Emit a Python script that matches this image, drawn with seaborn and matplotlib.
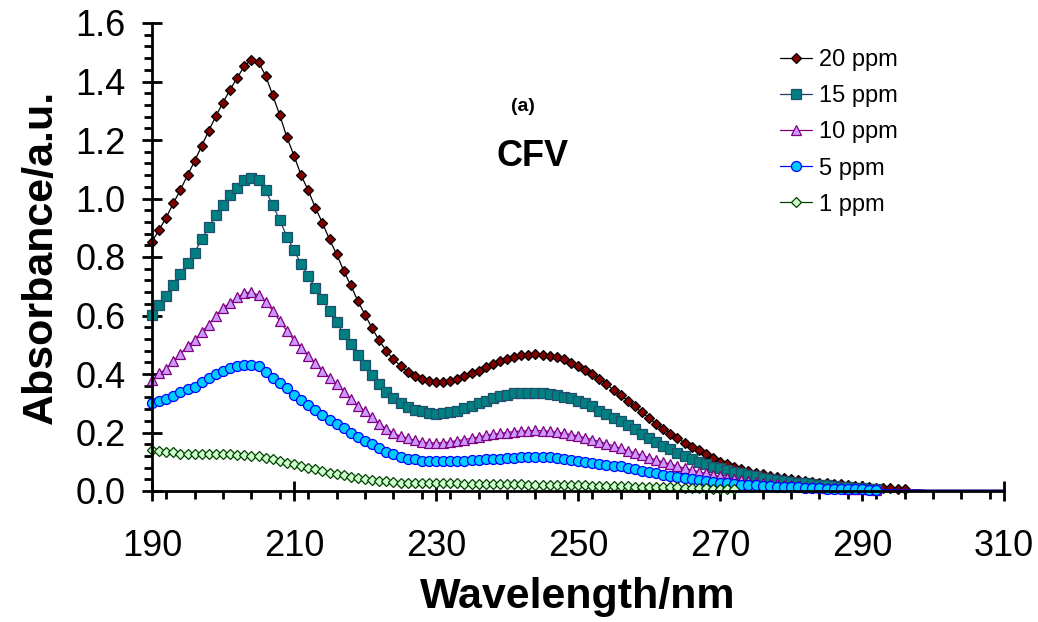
import numpy as np
import pandas as pd
import matplotlib
matplotlib.use("Agg")
import matplotlib.pyplot as plt
import seaborn as sns
from matplotlib.ticker import MultipleLocator, FormatStrFormatter

# ---------------- data (absorbance, 1 nm steps from 190 nm) -------------
start_nm = 190

abs_20ppm = [
    0.852, 0.893, 0.935, 0.983, 1.030, 1.079, 1.128, 1.180, 1.232, 1.282,
    1.328, 1.372, 1.413, 1.452, 1.475, 1.466, 1.420, 1.353, 1.285, 1.209,
    1.147, 1.079, 1.028, 0.969, 0.917, 0.860, 0.810, 0.753, 0.703, 0.649,
    0.603, 0.556, 0.515, 0.479, 0.450, 0.428, 0.407, 0.394, 0.383, 0.376,
    0.372, 0.371, 0.377, 0.383, 0.392, 0.402, 0.411, 0.424, 0.434, 0.443,
    0.450, 0.458, 0.464, 0.465, 0.468, 0.465, 0.462, 0.458, 0.450, 0.439,
    0.428, 0.415, 0.400, 0.383, 0.366, 0.345, 0.329, 0.309, 0.289, 0.269,
    0.250, 0.230, 0.213, 0.196, 0.181, 0.165, 0.150, 0.139, 0.126, 0.113,
    0.100, 0.091, 0.083, 0.075, 0.068, 0.062, 0.057, 0.052, 0.049, 0.045,
    0.041, 0.037, 0.034, 0.031, 0.029, 0.027, 0.025, 0.023, 0.020, 0.018,
    0.017, 0.014, 0.011, 0.009, 0.009, 0.008, 0.008,
]

abs_15ppm = [
    0.603, 0.637, 0.666, 0.705, 0.741, 0.781, 0.815, 0.861, 0.901, 0.945,
    0.977, 1.011, 1.037, 1.062, 1.070, 1.062, 1.028, 0.977, 0.926, 0.869,
    0.824, 0.775, 0.736, 0.694, 0.658, 0.615, 0.577, 0.538, 0.502, 0.464,
    0.430, 0.396, 0.366, 0.340, 0.318, 0.301, 0.286, 0.277, 0.272, 0.266,
    0.264, 0.265, 0.269, 0.275, 0.284, 0.292, 0.300, 0.309, 0.317, 0.324,
    0.329, 0.334, 0.335, 0.336, 0.336, 0.335, 0.332, 0.328, 0.323, 0.317,
    0.309, 0.300, 0.289, 0.275, 0.264, 0.250, 0.238, 0.224, 0.211, 0.196,
    0.182, 0.167, 0.155, 0.142, 0.130, 0.119, 0.110, 0.100, 0.091, 0.083,
    0.078, 0.072, 0.066, 0.060, 0.055, 0.050, 0.046, 0.042, 0.038, 0.035,
    0.032, 0.029, 0.026, 0.024, 0.021, 0.019, 0.017, 0.015, 0.013, 0.011,
    0.009, 0.008, 0.007,
]

abs_10ppm = [
    0.379, 0.402, 0.417, 0.445, 0.468, 0.496, 0.515, 0.544, 0.569, 0.598,
    0.626, 0.643, 0.662, 0.677, 0.680, 0.669, 0.646, 0.617, 0.581, 0.547,
    0.515, 0.490, 0.462, 0.436, 0.411, 0.388, 0.366, 0.340, 0.315, 0.292,
    0.273, 0.252, 0.230, 0.213, 0.198, 0.187, 0.181, 0.173, 0.167, 0.165,
    0.164, 0.165, 0.168, 0.172, 0.176, 0.180, 0.185, 0.190, 0.194, 0.197,
    0.200, 0.203, 0.205, 0.206, 0.207, 0.206, 0.204, 0.201, 0.197, 0.193,
    0.188, 0.182, 0.176, 0.169, 0.162, 0.154, 0.146, 0.138, 0.130, 0.122,
    0.114, 0.106, 0.099, 0.092, 0.085, 0.078, 0.072, 0.066, 0.060, 0.055,
    0.050, 0.045, 0.041, 0.037, 0.034, 0.031, 0.028, 0.025, 0.023, 0.021,
    0.019, 0.017, 0.015, 0.014, 0.012, 0.011, 0.010, 0.009, 0.008, 0.007,
    0.006, 0.006, 0.005,
]

abs_5ppm = [
    0.300, 0.309, 0.315, 0.326, 0.337, 0.349, 0.357, 0.371, 0.386, 0.400,
    0.411, 0.419, 0.426, 0.430, 0.430, 0.426, 0.408, 0.388, 0.369, 0.351,
    0.329, 0.311, 0.294, 0.277, 0.261, 0.244, 0.230, 0.215, 0.199, 0.184,
    0.170, 0.159, 0.147, 0.134, 0.125, 0.116, 0.111, 0.108, 0.104, 0.102,
    0.101, 0.101, 0.102, 0.103, 0.104, 0.105, 0.106, 0.108, 0.109, 0.110,
    0.112, 0.113, 0.115, 0.116, 0.116, 0.116, 0.115, 0.113, 0.110, 0.106,
    0.102, 0.099, 0.096, 0.093, 0.090, 0.087, 0.084, 0.080, 0.075, 0.070,
    0.065, 0.060, 0.056, 0.052, 0.048, 0.044, 0.040, 0.037, 0.034, 0.031,
    0.029, 0.026, 0.024, 0.022, 0.020, 0.019, 0.017, 0.016, 0.015, 0.014,
    0.013, 0.012, 0.011, 0.010, 0.009, 0.008, 0.008, 0.007, 0.007, 0.006,
    0.006, 0.005, 0.005,
]

abs_1ppm = [
    0.139, 0.137, 0.134, 0.132, 0.128, 0.126, 0.125, 0.126, 0.126, 0.126,
    0.125, 0.125, 0.122, 0.122, 0.120, 0.119, 0.114, 0.109, 0.103, 0.097,
    0.092, 0.085, 0.079, 0.074, 0.068, 0.063, 0.058, 0.054, 0.049, 0.045,
    0.041, 0.037, 0.035, 0.034, 0.032, 0.029, 0.029, 0.028, 0.028, 0.028,
    0.026, 0.026, 0.026, 0.026, 0.025, 0.025, 0.025, 0.024, 0.024, 0.024,
    0.023, 0.023, 0.023, 0.022, 0.022, 0.022, 0.021, 0.021, 0.020, 0.020,
    0.019, 0.019, 0.018, 0.018, 0.017, 0.017, 0.016, 0.016, 0.015, 0.015,
    0.014, 0.014, 0.013, 0.012, 0.012, 0.011, 0.010, 0.010, 0.009, 0.008,
    0.008, 0.007, 0.007,
]

# near-zero baseline the lines run along after the last marker (293..310 nm)
tail_start_nm = 293
baseline_tail = [0.005, 0.004, 0.004, 0.003, 0.003, 0.003, 0.002, 0.002, 0.002,
                 0.002, 0.002, 0.002, 0.002, 0.002, 0.002, 0.002, 0.002, 0.002]

series_labels = ["20 ppm", "15 ppm", "10 ppm", "5 ppm", "1 ppm"]
series_values = [abs_20ppm, abs_15ppm, abs_10ppm, abs_5ppm, abs_1ppm]
series_has_tail = [True, True, True, True, False]

x_ticks = [190, 210, 230, 250, 270, 290, 310]
y_ticks = [0.0, 0.2, 0.4, 0.6, 0.8, 1.0, 1.2, 1.4, 1.6]

# ---------------- styles ----------------
styles = {
    "20 ppm": dict(color="#000000", marker="D", ms=5.0, mfc="#800000", mec="#000000"),
    "15 ppm": dict(color="#1F3F66", marker="s", ms=7.0, mfc="#008080", mec="#1F4F6F"),
    "10 ppm": dict(color="#800080", marker="^", ms=7.8, mfc="#CC99FF", mec="#800080"),
    "5 ppm":  dict(color="#0000FF", marker="o", ms=7.2, mfc="#00CCFF", mec="#0000FF"),
    "1 ppm":  dict(color="#004000", marker="D", ms=5.0, mfc="#CCFFCC", mec="#004000"),
}

sns.set_theme(style="ticks")
plt.rcParams["font.family"] = ["Liberation Sans", "DejaVu Sans"]
plt.rcParams["text.color"] = "black"
plt.rcParams["axes.labelcolor"] = "black"
plt.rcParams["xtick.color"] = "black"
plt.rcParams["ytick.color"] = "black"

fig = plt.figure(figsize=(10.38, 6.22), dpi=100)
fig.patch.set_facecolor("white")
ax = fig.add_axes([152 / 1038, 131 / 622, (1004 - 152) / 1038, (491 - 23) / 622])
ax.set_facecolor("white")

for label, vals, has_tail in zip(series_labels, series_values, series_has_tail):
    x_meas = np.arange(start_nm, start_nm + len(vals))
    xs = list(x_meas)
    ys = list(vals)
    if has_tail:
        tail_x = np.arange(tail_start_nm, tail_start_nm + len(baseline_tail))
        for tx, ty in zip(tail_x, baseline_tail):
            if tx > x_meas[-1]:
                xs.append(tx)
                ys.append(ty)
    df = pd.DataFrame({"Wavelength": xs, "Absorbance": ys})
    st = styles[label]
    sns.lineplot(
        data=df, x="Wavelength", y="Absorbance", ax=ax,
        color=st["color"], linewidth=0.9,
        marker=st["marker"], markersize=st["ms"],
        markerfacecolor=st["mfc"], markeredgecolor=st["mec"], markeredgewidth=0.9,
        markevery=slice(0, len(vals)),
        label=label, estimator=None, sort=False, legend=False, clip_on=False,
    )

ax.set_xlim(190, 310)
ax.set_ylim(0, 1.6)
ax.set_xticks(x_ticks)
ax.set_yticks(y_ticks)
ax.xaxis.set_minor_locator(MultipleLocator(4))
ax.yaxis.set_minor_locator(MultipleLocator(0.04))
ax.yaxis.set_major_formatter(FormatStrFormatter("%.1f"))

for side in ["top", "right"]:
    ax.spines[side].set_visible(False)
for side in ["left", "bottom"]:
    ax.spines[side].set_linewidth(2.0)
    ax.spines[side].set_color("black")

ax.tick_params(axis="both", which="major", direction="inout", length=14, width=2.0,
               labelsize=26, colors="black")
ax.tick_params(axis="both", which="minor", direction="out", length=5.5, width=2.0,
               colors="black")
ax.tick_params(axis="x", which="major", pad=20)
ax.tick_params(axis="y", which="major", pad=12)

ax.set_xlabel("Wavelength/nm", fontsize=31, fontweight="bold", labelpad=10, color="black")
ax.set_ylabel("Absorbance/a.u.", fontsize=31, fontweight="bold", labelpad=10, color="black")

ax.text(242.3, 1.316, "(a)", fontsize=14, fontweight="bold", ha="center", va="center",
        color="black")
ax.text(243.6, 1.145, "CFV", fontsize=26, fontweight="bold", ha="center", va="center",
        color="black")

handles, labels = ax.get_legend_handles_labels()
leg = ax.legend(handles, labels, loc="upper left",
                bbox_to_anchor=(780 / 1038, 1 - 49 / 622), bbox_transform=fig.transFigure,
                frameon=False, fontsize=17, handlelength=1.35, handletextpad=0.3,
                labelspacing=0.6, borderpad=0, borderaxespad=0, numpoints=1)
for h in leg.legend_handles:
    h.set_markevery([1])
for t in leg.get_texts():
    t.set_color("black")

fig.savefig("out.png", dpi=100, facecolor="white")
